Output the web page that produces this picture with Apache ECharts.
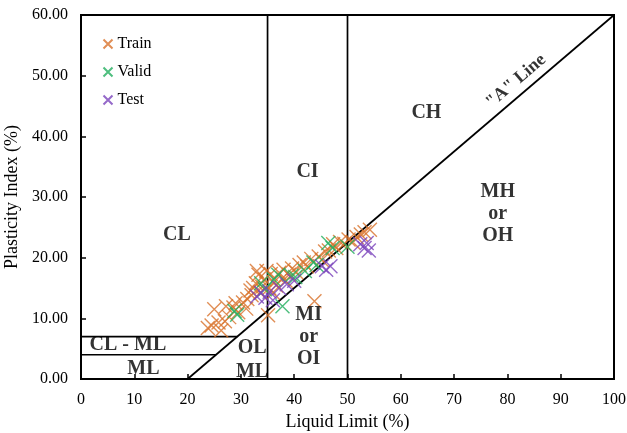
<!DOCTYPE html>
<html>
<head>
<meta charset="utf-8">
<script src="https://cdn.jsdelivr.net/npm/echarts@6/dist/echarts.min.js"></script>
<style>html,body{margin:0;padding:0;background:#fff}#c{width:627px;height:433px}</style>
</head>
<body>
<div id="c"></div>
<script>
var xTicks = [0,10,20,30,40,50,60,70,80,90,100];
var yTicks = [0,10,20,30,40,50,60];

var train = [[24.5,8.8],[25.0,11.5],[23.8,8.4],[25.8,9.3],[26.3,8.0],[27.2,12.0],[27.8,10.2],[28.6,11.8],[29.5,11.0],[30.4,12.6],[31.2,13.2],[31.8,14.6],[32.3,15.0],[32.8,15.8],[33.3,17.2],[33.6,14.2],[34.0,15.2],[34.4,16.4],[35.1,10.5],[35.3,15.0],[35.6,17.3],[36.2,16.0],[36.6,15.4],[37.2,17.5],[37.8,16.6],[38.4,16.2],[39.0,17.2],[39.6,18.2],[40.4,17.6],[41.0,18.8],[41.8,19.2],[42.4,18.6],[43.2,19.8],[43.8,12.8],[44.6,20.2],[45.2,19.6],[45.8,21.0],[46.5,21.2],[47.3,22.2],[47.9,21.6],[48.6,22.6],[49.4,22.3],[50.2,23.0],[51.0,22.6],[51.7,23.4],[52.5,23.8],[53.2,24.2],[54.2,24.6],[29.0,12.5],[32.0,13.8],[34.8,17.8],[36.0,14.2],[38.0,18.0],[31.0,11.6],[27.0,9.5],[33.0,17.8]];
var valid = [[28.8,11.2],[29.3,10.6],[33.8,15.8],[34.5,14.8],[36.2,16.4],[37.0,17.2],[37.8,12.0],[39.5,17.0],[40.2,16.8],[42.0,17.8],[43.6,19.2],[44.2,18.8],[46.4,22.4],[47.2,21.6],[50.0,21.8]];
var test = [[33.0,13.6],[33.8,14.2],[34.6,13.4],[35.4,14.4],[36.0,13.0],[37.2,15.0],[38.6,15.6],[40.0,16.2],[45.2,18.6],[46.0,18.0],[46.8,18.6],[52.4,22.2],[53.2,21.6],[54.0,21.2],[53.6,22.4]];

var aLine = [[20,0],[100,60]];
var ciLine = [[35,0],[35,60]];
var chLine = [[50,0],[50,60]];
var clmlTop = [[0,7],[29.33,7]];
var clmlBottom = [[0,4],[25.33,4]];

var zoneLabels = [
  {name:'CL', value:[18.0,23.7]},
  {name:'CI', value:[42.5,34.1]},
  {name:'CH', value:[64.8,43.8]},
  {name:'MH\nor\nOH', value:[78.2,27.2]},
  {name:'MI\nor\nOI', value:[42.7,6.9]},
  {name:'CL - ML', value:[8.8,5.6]},
  {name:'ML', value:[11.7,1.6]},
  {name:'OL', value:[32.1,5.1]},
  {name:'ML', value:[32.1,1.2]}
];
var aLineLabel = [{name:'"A" Line', value:[81.6,49.1]}];

var colors = {train:'#D8722A', valid:'#22AE5E', test:'#7A44BC'};
var cross = 'path://M0,0L10,10M10,0L0,10';
var serif = '"Liberation Serif", "Times New Roman", serif';

function scatter(name, data, color){
  return {name:name, type:'scatter', data:data, symbol:cross, symbolSize:14,
    itemStyle:{color:'none', borderColor:color, borderWidth:1.4}, z:3};
}
function seg(data){
  return {type:'line', data:data, symbol:'none', silent:true,
    lineStyle:{color:'#000', width:1.7}, z:2, animation:false};
}

var chart = echarts.init(document.getElementById('c'));
chart.setOption({
  animation:false,
  backgroundColor:'#fff',
  grid:{left:81, right:13, top:15, bottom:54, outerBoundsMode:'none', containLabel:false,
    show:true, borderColor:'#000', borderWidth:2, backgroundColor:'transparent'},
  legend:{
    data:['Train','Valid','Test'], orient:'vertical', left:96, top:31,
    itemWidth:9, itemHeight:9, itemGap:12,
    textStyle:{fontFamily:serif, fontSize:16, color:'#000'}
  },
  xAxis:{
    type:'value', min:0, max:100, interval:10,
    name:'Liquid Limit (%)', nameLocation:'middle', nameGap:32,
    nameTextStyle:{fontFamily:serif, fontSize:18, color:'#000'},
    axisLine:{lineStyle:{color:'#000', width:2}},
    axisTick:{inside:true, length:5, lineStyle:{color:'#000', width:1.5}},
    axisLabel:{fontFamily:serif, fontSize:16, color:'#000', margin:13},
    splitLine:{show:false}
  },
  yAxis:{
    type:'value', min:0, max:60, interval:10,
    name:'Plasticity Index (%)', nameLocation:'middle', nameGap:50,
    nameTextStyle:{fontFamily:serif, fontSize:18, color:'#000'},
    axisLine:{lineStyle:{color:'#000', width:2}},
    axisTick:{inside:true, length:5, lineStyle:{color:'#000', width:1.5}},
    axisLabel:{fontFamily:serif, fontSize:16, color:'#000', margin:13,
      formatter:function(v){return v.toFixed(2);}},
    splitLine:{show:false}
  },
  series:[
    seg(aLine), seg(ciLine), seg(chLine), seg(clmlTop), seg(clmlBottom),
    {type:'scatter', data:zoneLabels, symbolSize:0, silent:true, z:4,
      label:{show:true, position:'inside', formatter:'{b}', fontFamily:serif, fontWeight:'bold', fontSize:20, color:'#000', lineHeight:22}},
    {type:'scatter', data:aLineLabel, symbolSize:0, silent:true, z:4,
      label:{show:true, position:'inside', formatter:'{b}', rotate:40.6, fontFamily:serif, fontWeight:'bold', fontSize:18, color:'#000'}},
    scatter('Train', train, colors.train),
    scatter('Valid', valid, colors.valid),
    scatter('Test', test, colors.test)
  ]
});
</script>
</body>
</html>
